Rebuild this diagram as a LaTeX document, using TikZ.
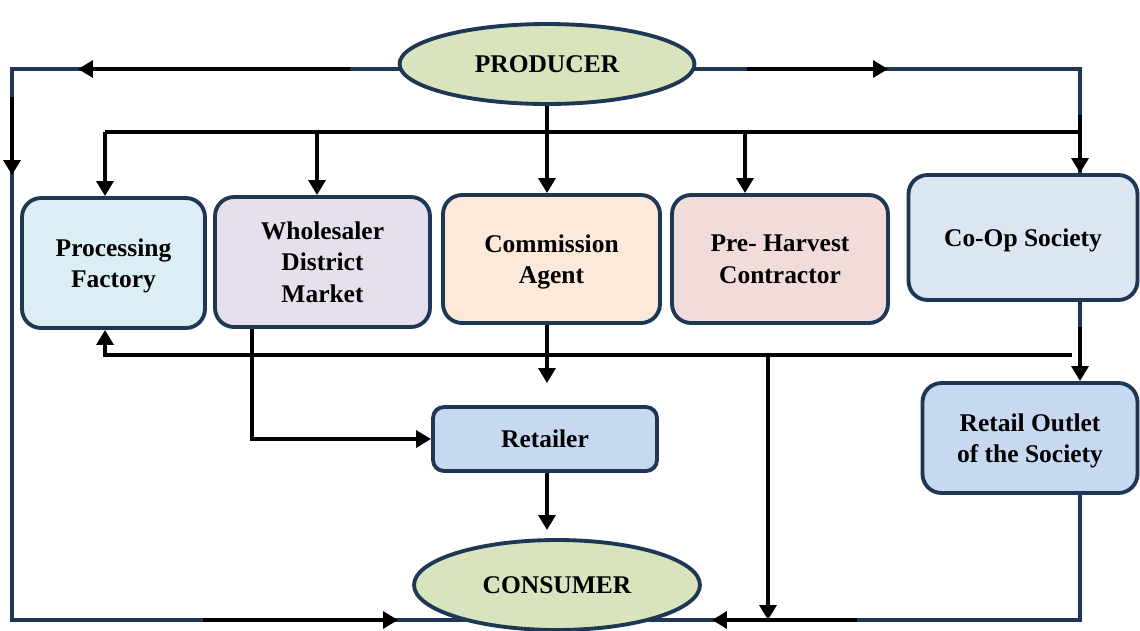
\documentclass[tikz,border=0pt]{standalone}
\usepackage{fontspec}
\setmainfont{Liberation Serif}
\usepackage{xcolor}
\usetikzlibrary{arrows.meta,shapes.geometric,backgrounds}
\definecolor{chain_navy}{RGB}{30,55,85}
\definecolor{chain_olive}{RGB}{215,228,189}
\definecolor{chain_sky}{RGB}{218,238,243}
\definecolor{chain_lilac}{RGB}{229,224,236}
\definecolor{chain_peach}{RGB}{253,233,217}
\definecolor{chain_rose}{RGB}{242,220,219}
\definecolor{chain_ice}{RGB}{220,230,242}
\definecolor{chain_blue}{RGB}{198,217,241}

\begin{document}
\begin{tikzpicture}[x=0.02cm, y=-0.02cm,
    font=\bfseries\fontsize{14.5}{18}\selectfont,
    box/.style={draw=chain_navy, line width=2.2pt, rounded corners=0.38cm,
      align=center, inner sep=0pt, text depth=0pt},
    oval/.style={ellipse, draw=chain_navy, fill=chain_olive,
      line width=2.2pt, inner sep=0pt},
    route/.style={draw=chain_navy, line width=2pt},
    link/.style={draw=black, line width=2.3pt},
    flow/.style={link, -{Triangle[length=8.5pt,width=9.5pt]}}]
  \useasboundingbox (0,0) rectangle (1140,630);

  % Producer and consumer
  \node[oval, minimum width=5.9cm, minimum height=1.6cm] (prod) at (547,64) {PRODUCER};
  \node[oval, minimum width=5.72cm, minimum height=1.8cm] (cons) at (557,585) {CONSUMER};

  % Intermediaries
  \node[box, fill=chain_sky, minimum width=3.66cm, minimum height=2.6cm]
    (proc) at (113.5,263) {Processing\\Factory};
  \node[box, fill=chain_lilac, minimum width=4.3cm, minimum height=2.6cm]
    (whole) at (322.5,262) {Wholesaler\\District\\Market};
  \node[box, fill=chain_peach, minimum width=4.34cm, minimum height=2.56cm]
    (agent) at (551.5,259) {Commission\\Agent};
  \node[box, fill=chain_rose, minimum width=4.32cm, minimum height=2.56cm]
    (pre) at (780,259) {Pre- Harvest\\Contractor};
  \node[box, fill=chain_ice, minimum width=4.58cm, minimum height=2.5cm]
    (coop) at (1023,237.5) {Co-Op Society};
  \node[box, fill=chain_blue, minimum width=4.48cm, minimum height=1.28cm,
    rounded corners=0.22cm] (ret) at (545,439) {Retailer};
  \node[box, fill=chain_blue, minimum width=4.3cm, minimum height=2.2cm]
    (outlet) at (1030,438) {Retail Outlet\\of the Society};

  % Corners and bus points
  \coordinate (tl) at (12,69);
  \coordinate (bl) at (12,620);
  \coordinate (tr) at (1080,69);
  \coordinate (br) at (1080,620);
  \coordinate (topL) at (105,132);
  \coordinate (topR) at (1080,132);
  \coordinate (t2) at (317,132);
  \coordinate (t4) at (745,132);
  \coordinate (midL) at (105,355);
  \coordinate (midR) at (1072,355);
  \coordinate (drop) at (768,355);
  \coordinate (foot) at (768,620);
  \coordinate (bend) at (252,439);
  \coordinate (c1) at (1080,327);
  \coordinate (a1) at (agent.south -| prod);
  \coordinate (a2) at (ret.south -| prod);
  % Arrow marks on the outer route
  \coordinate (p1) at (350,69);
  \coordinate (p2) at (78,69);
  \coordinate (p3) at (747,69);
  \coordinate (p4) at (888,69);
  \coordinate (l1) at (12,97);
  \coordinate (l2) at (12,175);
  \coordinate (r1) at (1080,115);
  \coordinate (f1) at (203,620);
  \coordinate (f2) at (398,620);
  \coordinate (f3) at (857,620);
  \coordinate (f4) at (712,620);

  % Outer route
  \begin{scope}[on background layer]
    \draw[route] (prod |- tl) -- (tl) -- (bl) -- (cons |- bl);
    \draw[route] (prod |- tr) -- (tr) -- (coop.north -| tr);
    \draw[route] (coop.south -| tr) -- (c1);
    \draw[route] (outlet.south -| br) -- (br) -- (cons |- br);
  \end{scope}
  \draw[flow] (p1) -- (p2);
  \draw[flow] (p3) -- (p4);
  \draw[flow] (l1) -- (l2);
  \draw[flow] (r1) -- (coop.north -| r1);
  \draw[flow] (f1) -- (f2);
  \draw[flow] (f3) -- (f4);

  % Top bus
  \draw[link] (topL) -- (topR);
  \draw[flow] (topL) -- (topL |- proc.north);
  \draw[flow] (t2) -- (t2 |- whole.north);
  \draw[flow] (prod.south) -- (prod.south |- agent.north);
  \draw[flow] (t4) -- (t4 |- pre.north);

  % Middle bus
  \draw[flow] (midR) -- (midL) -- (midL |- proc.south);
  \draw[flow] (drop) -- (foot);
  \draw[flow] (c1) -- (outlet.north -| c1);

  % To retailer and consumer
  \draw[flow] (whole.south -| bend) -- (bend) -- (ret.west);
  \draw[flow, shorten >=0.44cm] (a1) -- (a1 |- ret.north);
  \draw[flow, shorten >=0.16cm] (a2) -- (a2 |- cons.north);
\end{tikzpicture}
\end{document}
